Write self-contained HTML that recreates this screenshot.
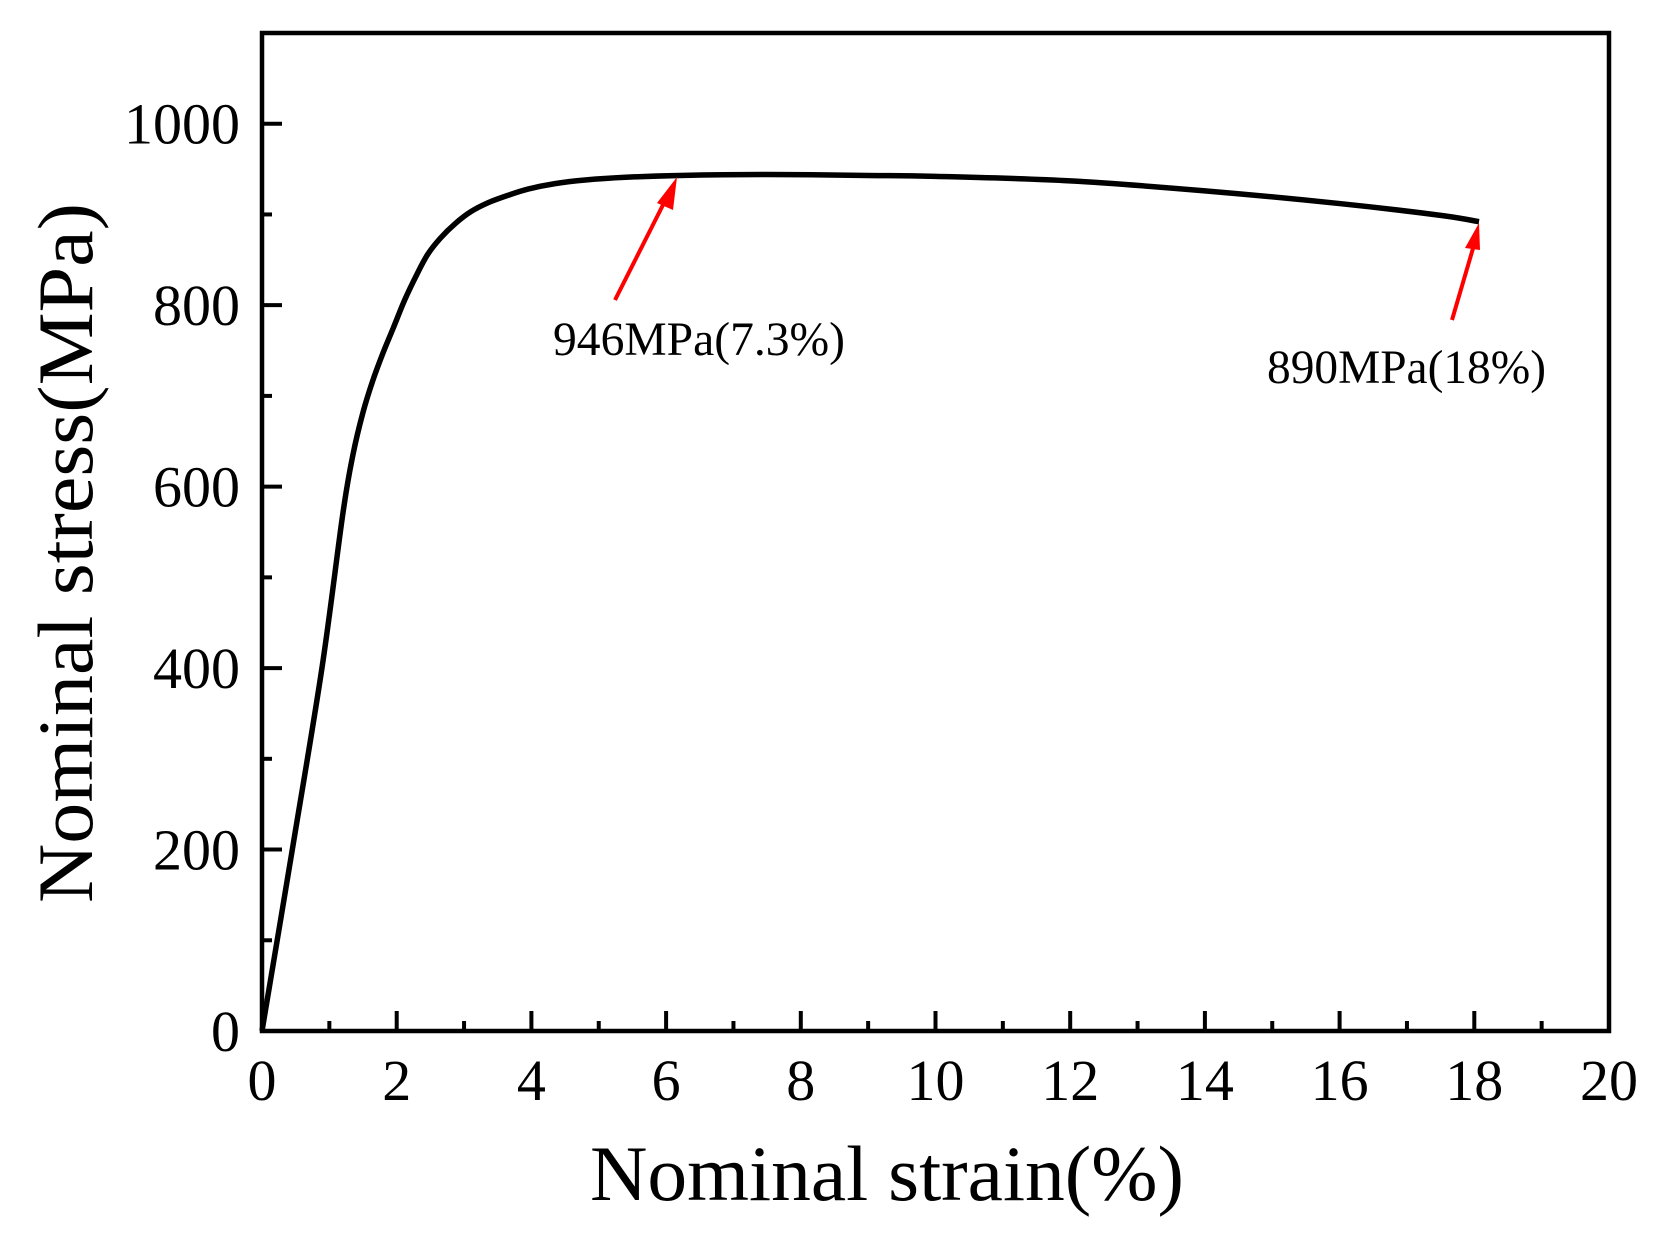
<!DOCTYPE html>
<html><head><meta charset="utf-8"><style>
html,body{margin:0;padding:0;background:#fff;}
svg{display:block;font-family:"Liberation Serif",serif;}
</style></head><body>
<svg id="chart" width="1660" height="1240" viewBox="0 0 1660 1240" xmlns="http://www.w3.org/2000/svg">
<rect width="1660" height="1240" fill="#fff"/>
<g id="ticks"></g>
<path id="curve" fill="none" stroke="#000" stroke-width="5.5" stroke-linejoin="round"/>
<rect x="262" y="33" width="1347" height="998" fill="none" stroke="#000" stroke-width="4.5"/>
<text x="887" y="1200" font-size="78" text-anchor="middle" textLength="594" lengthAdjust="spacingAndGlyphs">Nominal strain(%)</text>
<text transform="translate(92,553) rotate(-90)" font-size="78" text-anchor="middle" textLength="700" lengthAdjust="spacingAndGlyphs">Nominal stress(MPa)</text>
<g>
<line x1="615" y1="300" x2="667" y2="197" stroke="#f00" stroke-width="4"/>
<polygon points="677,177 657,203 673,210" fill="#f00"/>
<text x="553" y="355" font-size="48" textLength="292" lengthAdjust="spacingAndGlyphs">946MPa(7.3%)</text>
</g>
<g>
<line x1="1452" y1="320" x2="1474" y2="245" stroke="#f00" stroke-width="4"/>
<polygon points="1479,223 1465,248 1480,250" fill="#f00"/>
<text x="1267" y="383" font-size="48" textLength="279" lengthAdjust="spacingAndGlyphs">890MPa(18%)</text>
</g>
</svg>
<script>
const strain = [0, 0.45, 0.89, 1.2, 1.35, 1.5, 1.65, 1.8, 1.95, 2.12, 2.3, 2.46, 2.65, 2.87, 3.1, 3.36, 3.65, 3.95, 4.35, 4.8, 5.4, 6.2, 7.5, 9, 10, 12, 14, 16, 17.5, 18.07];
const stress = [0, 200, 400, 570, 635, 682, 718, 748, 775, 806, 834, 856, 874, 890, 903, 913, 921, 928, 934, 938, 941, 943, 944, 943, 942, 937, 926, 912, 899, 892];
const xTickVals = [0, 2, 4, 6, 8, 10, 12, 14, 16, 18, 20];
const yTickVals = [0, 200, 400, 600, 800, 1000];

const X0 = 262, X1 = 1609, Y0 = 1031, Y1 = 33;
const xs = v => X0 + (v / 20) * (X1 - X0);
const ys = v => Y0 - (v / 1100) * (Y0 - Y1);
const NS = "http://www.w3.org/2000/svg";
const g = document.getElementById('ticks');
function mk(tag, attrs) { const e = document.createElementNS(NS, tag); for (const k in attrs) e.setAttribute(k, attrs[k]); return e; }

for (let v = 1; v < 20; v += 1) {
  const major = v % 2 === 0;
  const t = mk('line', {x1: xs(v), x2: xs(v), y1: Y0, y2: Y0 - (major ? 20 : 10), stroke: '#000', 'stroke-width': 4});
  
  
  g.appendChild(t);
}
xTickVals.forEach(v => {
  const t = mk('text', {x: xs(v), y: 1100, 'font-size': 58, 'text-anchor': 'middle'});
  t.textContent = v;
  
  
  g.appendChild(t);
});
for (let v = 100; v <= 1000; v += 100) {
  const major = v % 200 === 0;
  const t = mk('line', {x1: X0, x2: X0 + (major ? 20 : 10), y1: ys(v), y2: ys(v), stroke: '#000', 'stroke-width': 4});
  
  
  g.appendChild(t);
}
yTickVals.forEach(v => {
  const t = mk('text', {x: 240, y: ys(v) + 20, 'font-size': 58, 'text-anchor': 'end'});
  t.textContent = v;
  
  
  g.appendChild(t);
});

const pts = strain.map((s, i) => [xs(s), ys(stress[i])]);
let d = `M${pts[0][0]},${pts[0][1]}`;
for (let i = 0; i < pts.length - 1; i++) {
  const p0 = pts[i - 1] || pts[i], p1 = pts[i], p2 = pts[i + 1], p3 = pts[i + 2] || p2;
  const c1 = [p1[0] + (p2[0] - p0[0]) / 6, p1[1] + (p2[1] - p0[1]) / 6];
  const c2 = [p2[0] - (p3[0] - p1[0]) / 6, p2[1] - (p3[1] - p1[1]) / 6];
  d += ` C${c1[0]},${c1[1]} ${c2[0]},${c2[1]} ${p2[0]},${p2[1]}`;
}
document.getElementById('curve').setAttribute('d', d);
</script>
</body></html>
